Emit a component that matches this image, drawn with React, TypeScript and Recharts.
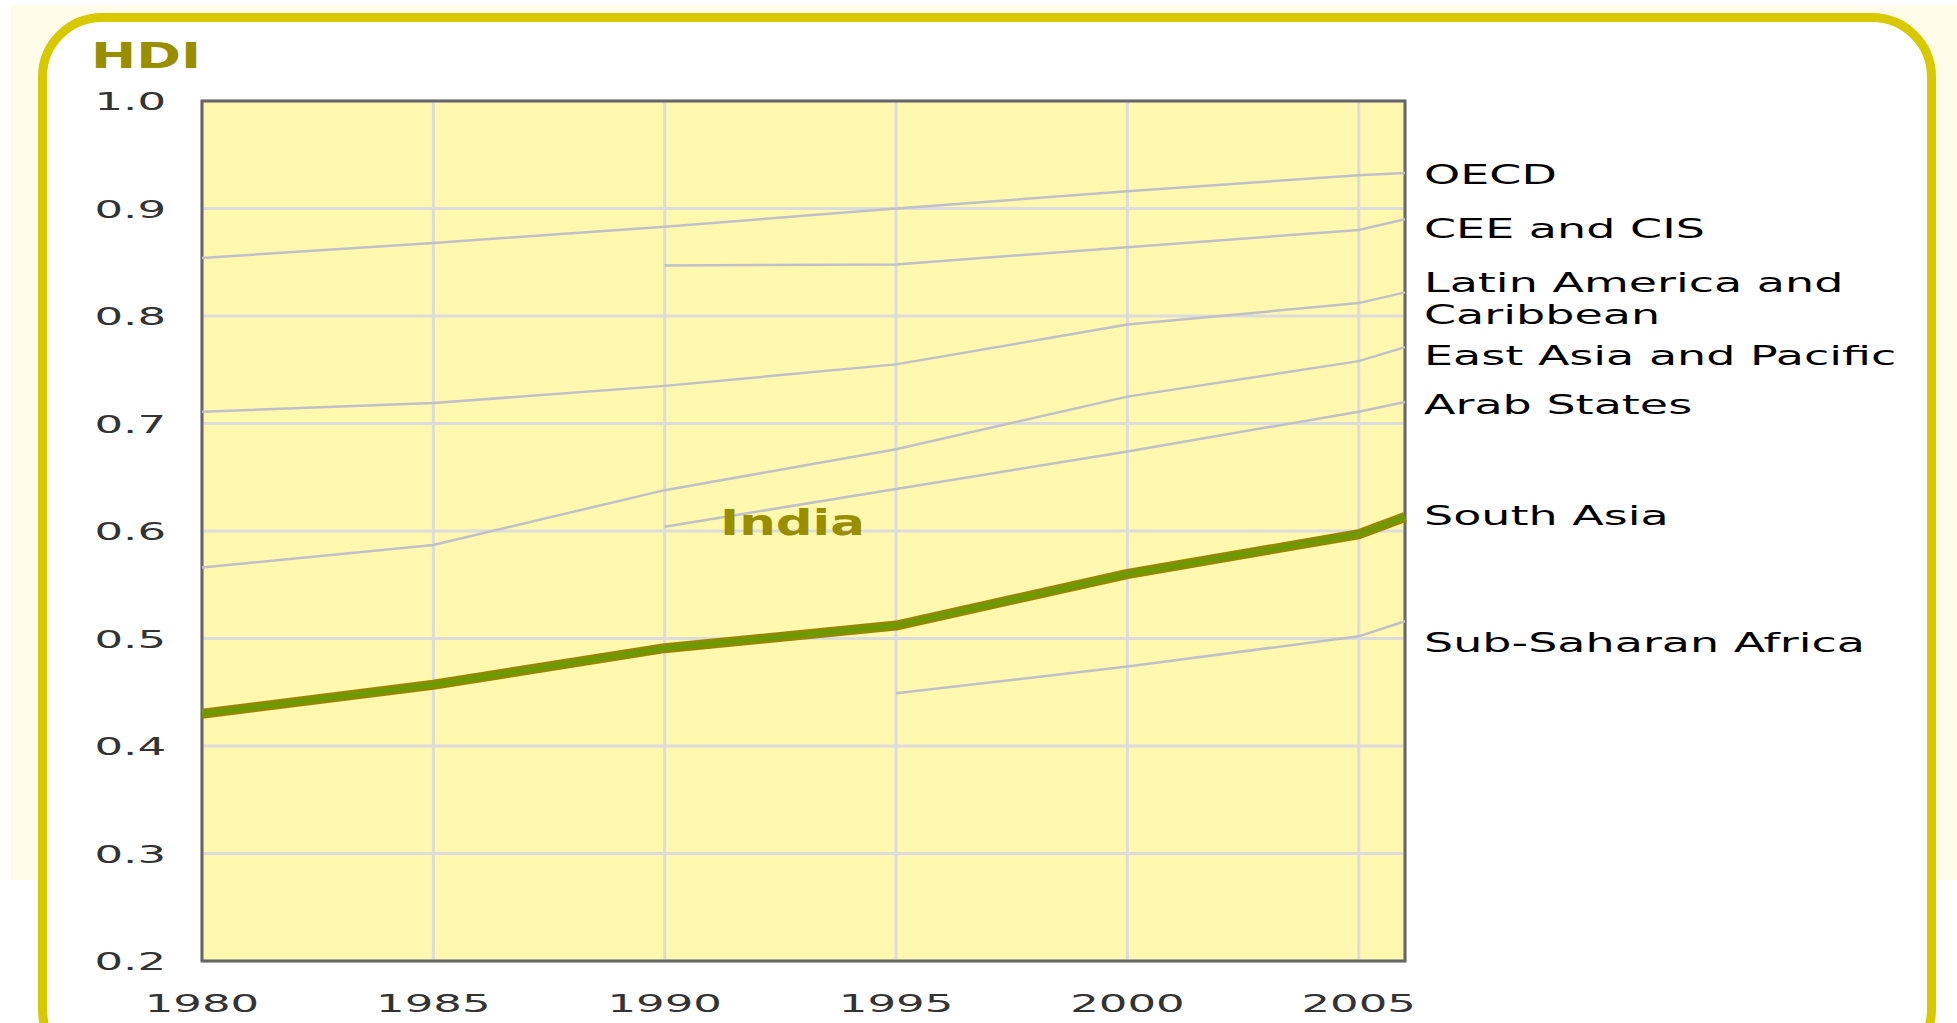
import { LineChart, Line, XAxis, YAxis, CartesianGrid, ReferenceArea } from 'recharts'

const years = [1980, 1985, 1990, 1995, 2000, 2005, 2006]
const oecd = [0.854, 0.868, 0.883, 0.9, 0.916, 0.931, 0.933]
const ceeCis = [null, null, 0.847, 0.848, 0.864, 0.88, 0.89]
const latinAmerica = [0.711, 0.719, 0.735, 0.755, 0.792, 0.812, 0.822]
const eastAsia = [0.566, 0.587, 0.638, 0.676, 0.725, 0.758, 0.771]
const arabStates = [null, null, 0.604, 0.639, 0.674, 0.711, 0.72]
const southAsia = [0.43, 0.457, 0.491, 0.512, 0.56, 0.597, 0.613]
const subSaharan = [null, null, null, 0.449, 0.474, 0.502, 0.516]

const xTicks = [1980, 1985, 1990, 1995, 2000, 2005]
const yTicks = [0.2, 0.3, 0.4, 0.5, 0.6, 0.7, 0.8, 0.9, 1.0]

// region labels on the right, with baseline y
const regionLabels = ['OECD', 'CEE and CIS', 'Latin America and', 'Caribbean', 'East Asia and Pacific', 'Arab States', 'South Asia', 'Sub-Saharan Africa']
const regionLabelY = [184, 238, 292, 324, 365, 414, 525, 652]

const data = years.map((year, i) => ({
  year,
  oecd: oecd[i],
  ceeCis: ceeCis[i],
  latinAmerica: latinAmerica[i],
  eastAsia: eastAsia[i],
  arabStates: arabStates[i],
  southAsia: southAsia[i],
  subSaharan: subSaharan[i],
}))

const FONT = '"DejaVu Sans", Verdana, sans-serif'
const GRAY_LINE = '#c0c0c8'

function YTick({ x, y, payload }: any) {
  return (
    <text
      transform={`translate(${x - 36}, ${y + 9}) scale(1.8, 1)`}
      textAnchor="end"
      fontFamily={FONT}
      fontSize={25}
      fill="#333"
    >
      {payload.value.toFixed(1)}
    </text>
  )
}

function XTick({ x, y, payload }: any) {
  return (
    <text
      transform={`translate(${x}, ${y + 51}) scale(1.8, 1)`}
      textAnchor="middle"
      fontFamily={FONT}
      fontSize={25}
      fill="#333"
    >
      {payload.value}
    </text>
  )
}

export default function App() {
  return (
    <div style={{ position: 'absolute', left: 0, top: 0, width: 1957, height: 1023, background: '#fff', overflow: 'hidden' }}>
      <div style={{ position: 'absolute', left: 11, top: 5, width: 1946, height: 875, background: '#fffde9' }} />
      <div
        style={{
          position: 'absolute',
          left: 38,
          top: 13,
          width: 1898,
          height: 1060,
          boxSizing: 'border-box',
          border: '9px solid #d8c800',
          borderRadius: 64,
          background: '#fff',
        }}
      />
      <div style={{ position: 'absolute', left: 0, top: 0 }}>
        <LineChart width={1957} height={1023} data={data} margin={{ top: 101, right: 552, bottom: 0, left: 0 }}>
          <CartesianGrid fill="#fff8ae" stroke="#dcdcdc" strokeWidth={3} />
          <XAxis
            dataKey="year"
            type="number"
            domain={[1980, 2006]}
            ticks={xTicks}
            height={62}
            axisLine={false}
            tickLine={false}
            tickSize={0}
            tickMargin={0}
            tick={<XTick />}
            interval={0}
          />
          <YAxis
            type="number"
            domain={[0.2, 1.0]}
            ticks={yTicks}
            width={202}
            axisLine={false}
            tickLine={false}
            tickSize={0}
            tickMargin={0}
            tick={<YTick />}
            interval={0}
          />
          <ReferenceArea x1={1980} x2={2006} y1={0.2} y2={1.0} fill="none" stroke="#676767" strokeWidth={3} />
          <Line dataKey="oecd" stroke={GRAY_LINE} strokeWidth={2.5} dot={false} isAnimationActive={false} />
          <Line dataKey="ceeCis" stroke={GRAY_LINE} strokeWidth={2.5} dot={false} isAnimationActive={false} />
          <Line dataKey="latinAmerica" stroke={GRAY_LINE} strokeWidth={2.5} dot={false} isAnimationActive={false} />
          <Line dataKey="eastAsia" stroke={GRAY_LINE} strokeWidth={2.5} dot={false} isAnimationActive={false} />
          <Line dataKey="arabStates" stroke={GRAY_LINE} strokeWidth={2.5} dot={false} isAnimationActive={false} />
          <Line dataKey="subSaharan" stroke={GRAY_LINE} strokeWidth={2.5} dot={false} isAnimationActive={false} />
          <Line dataKey="southAsia" stroke="#958700" strokeWidth={10} strokeLinejoin="round" dot={false} isAnimationActive={false} />
          <Line dataKey="southAsia" stroke="#6a9b00" strokeWidth={5} strokeLinejoin="round" dot={false} isAnimationActive={false} />
        </LineChart>
      </div>
      <svg width={1957} height={1023} style={{ position: 'absolute', left: 0, top: 0, pointerEvents: 'none' }}>
        <text transform="translate(91, 68) scale(1.5, 1)" fontFamily={FONT} fontWeight="bold" fontSize={36} fill="#998d00">
          HDI
        </text>
        <text transform="translate(720, 535) scale(1.47, 1)" fontFamily={FONT} fontWeight="bold" fontSize={35} fill="#998d00">
          India
        </text>
        {regionLabels.map((label, i) => (
          <text
            key={label}
            transform={`translate(1424, ${regionLabelY[i]}) scale(1.77, 1)`}
            fontFamily={FONT}
            fontSize={26}
            fill="#000"
          >
            {label}
          </text>
        ))}
      </svg>
    </div>
  )
}
